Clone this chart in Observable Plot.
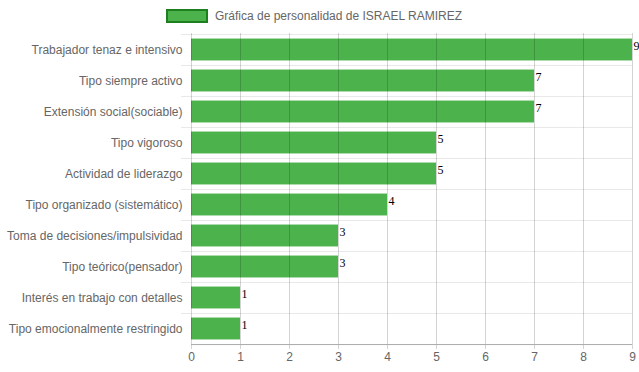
<!DOCTYPE html>
<html>
<head>
<meta charset="utf-8">
<script src="https://cdn.jsdelivr.net/npm/d3@7"></script>
<script src="https://cdn.jsdelivr.net/npm/@observablehq/plot@0.6"></script>
<style>
  body { margin: 0; background: #fff; }
  #wrap { position: relative; width: 639px; height: 372px; font-family: "Liberation Sans", Arial, sans-serif; }
  #legend { position: absolute; left: 166px; top: 9px; height: 14px; display: flex; align-items: center; font-size: 12px; color: #666; z-index: 2; }
  #legend .box { box-sizing: border-box; width: 42px; height: 14px; background: #4cb24c; border: 2px solid #1e7f1e; margin-right: 7px; }
  #chart { position: absolute; left: 0; top: 0; }
</style>
</head>
<body>
<div id="wrap">
  <div id="legend"><span class="box"></span><span class="txt"></span></div>
  <div id="chart"></div>
</div>
<script>
const legendLabel = "Gráfica de personalidad de ISRAEL RAMIREZ";
const categories = [
  "Trabajador tenaz e intensivo",
  "Tipo siempre activo",
  "Extensión social(sociable)",
  "Tipo vigoroso",
  "Actividad de liderazgo",
  "Tipo organizado (sistemático)",
  "Toma de decisiones/impulsividad",
  "Tipo teórico(pensador)",
  "Interés en trabajo con detalles",
  "Tipo emocionalmente restringido"
];
const values = [9, 7, 7, 5, 5, 4, 3, 3, 1, 1];
const xTicks = [0, 1, 2, 3, 4, 5, 6, 7, 8, 9];

document.querySelector("#legend .txt").textContent = legendLabel;

const data = categories.map((c, i) => ({category: c, value: values[i]}));
const W = 639, H = 372, mt = 33, mb = 28, ml = 191, mr = 7;
const step = (H - mt - mb) / categories.length;
const barH = 22;
const inset = (step - barH) / 2;

const chart = Plot.plot({
  width: W,
  height: H,
  marginTop: mt,
  marginBottom: mb,
  marginLeft: ml,
  marginRight: mr,
  style: {fontFamily: "Liberation Sans, Arial, sans-serif", fontSize: "12px", color: "#666", background: "transparent"},
  x: {domain: [0, 9], ticks: xTicks},
  y: {domain: categories, padding: 0},
  marks: [
    Plot.ruleY(categories, {y: d => d, dy: -step / 2, stroke: "#e8e8e8", insetLeft: -10}),
    Plot.barX(data, {x: "value", y: "category", fill: "#4cb24c", insetTop: inset, insetBottom: inset}),
    Plot.ruleX(xTicks, {x: d => d, stroke: "rgba(0,0,0,0.17)", insetBottom: -5}),
    Plot.ruleY([categories[categories.length - 1]], {y: d => d, dy: step / 2, stroke: "#aaa"}),
    Plot.text(data, {x: "value", y: "category", text: d => String(d.value), textAnchor: "start", dx: 1, dy: -4, fill: "#000", fontFamily: "Liberation Serif, Times New Roman, serif", fontSize: 12}),
    Plot.axisX({ticks: xTicks, tickSize: 0, tickPadding: 8, label: null}),
    Plot.axisY({tickSize: 0, tickPadding: 9, label: null})
  ]
});
document.getElementById("chart").appendChild(chart);
</script>
</body>
</html>
